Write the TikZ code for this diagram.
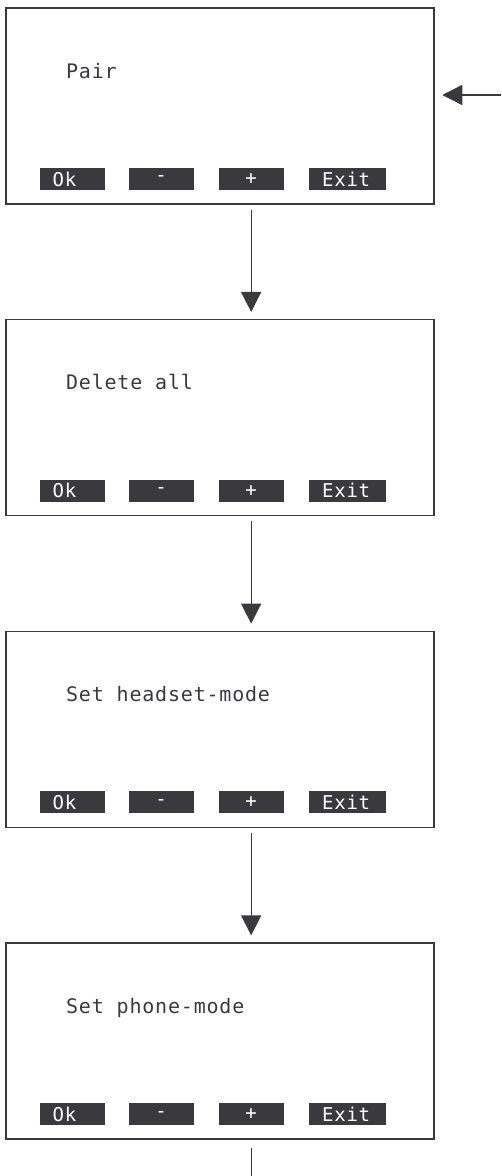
\documentclass[tikz,border=0pt]{standalone}
\usepackage{fontspec}
\setmonofont{DejaVu Sans Mono}[LetterSpace=4]
\usetikzlibrary{arrows.meta}
\definecolor{ink}{RGB}{58,58,62}
\tikzset{
  screen/.style={draw=ink, line width=1.5pt, minimum width=428pt, minimum height=196pt, inner sep=0pt},
  lcdtext/.style={text=ink, font=\ttfamily\fontsize{20}{22}\selectfont, inner sep=0pt},
  btn/.style={fill=ink, text=white, font=\ttfamily\fontsize{19}{22}\selectfont, anchor=west,
    inner xsep=13pt, inner ysep=0pt, minimum height=22pt, text width=#1, align=left},
}
\begin{document}
\begin{tikzpicture}[x=1pt, y=-1pt, >={Triangle[length=20pt,width=20pt]}, draw=ink, line width=1.3pt]
\useasboundingbox (0,0) rectangle (501,1176);
\foreach \t [count=\i] in {Pair,Delete all,Set headset-mode,Set phone-mode}{
  \pgfmathsetmacro\ytop{8+(\i-1)*311.7}
  \node[screen] (scr\i) at (220,\ytop+98) {};
  \node[lcdtext, anchor=base west] (lbl\i) at (65.5,\ytop+70) {\t};
  \node[btn=39pt] (ok\i) at (39,\ytop+171) {Ok};
  \node[btn=39pt, align=center] (minus\i) at (128,\ytop+171) {-};
  \node[btn=39pt, align=center] (plus\i) at (218,\ytop+171) {+};
  \node[btn=50pt, inner xsep=13.5pt] (exit\i) at (308,\ytop+171) {Exit};
}
\foreach \i/\j in {1/2,2/3,3/4}
  \draw[->, shorten <=5pt, shorten >=7pt] (scr\i.south -| plus\i) -- (scr\j.north -| plus\i);
\coordinate (entry) at (501,95);
\draw[->, shorten >=7.5pt] (entry) -- (entry -| scr1.east);
\coordinate (leave) at (plus4 |- 0,1176);
\draw[shorten <=8pt] (scr4.south -| plus4) -- (leave);
\end{tikzpicture}
\end{document}
